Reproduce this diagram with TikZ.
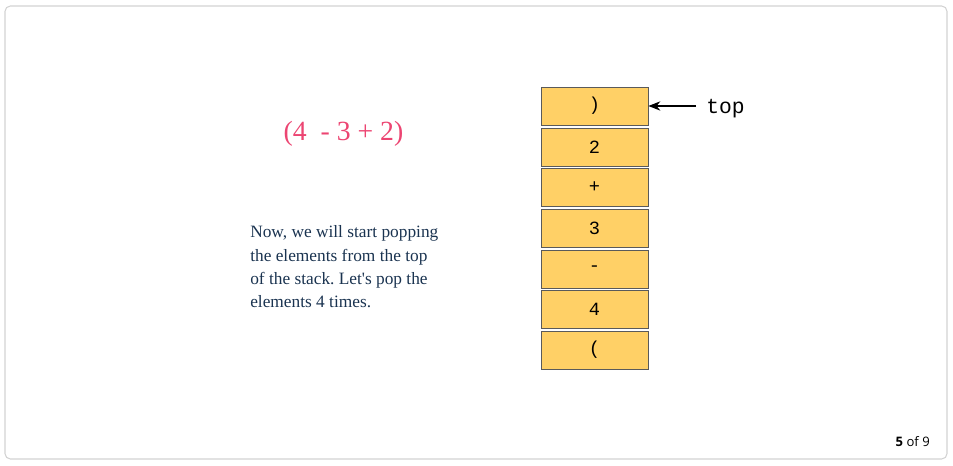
\documentclass[tikz,border=0pt]{standalone}
\usepackage{fontspec}
\setmainfont{Liberation Serif}[Ligatures=TeXOff]
\newfontfamily\monofont{Liberation Mono}
\newfontfamily\pagefont{Open Sans}
\usetikzlibrary{arrows.meta}
\frenchspacing
\definecolor{stackfill}{HTML}{FFD066}
\definecolor{stackline}{HTML}{5A5A5A}
\definecolor{exprpink}{HTML}{EC4572}
\definecolor{notetext}{HTML}{1A3350}
\definecolor{framegray}{HTML}{D2D2D2}
\tikzset{
  cell/.style={draw=stackline, fill=stackfill, minimum width=80.25pt, minimum height=28.5pt,
    inner sep=0pt, line width=0.6pt, font=\monofont\fontsize{14}{14}\selectfont},
  pointer/.style={-{Stealth[length=9pt,width=7pt]}, line width=0.9pt},
}
\begin{document}
\begin{tikzpicture}[x=0.75pt, y=-0.75pt]
        \useasboundingbox (0,0) rectangle (953,466);
        \draw[framegray, line width=0.8pt, rounded corners=4pt] (5,6) rectangle (947,459);
        \node[cell] (c0) at (594.5,106) {)};
        \node[cell] (c1) at (594.5,147) {2};
        \node[cell] (c2) at (594.5,187.5) {+};
        \node[cell] (c3) at (594.5,228) {3};
        \node[cell] (c4) at (594.5,269) {-};
        \node[cell] (c5) at (594.5,309.5) {4};
        \node[cell] (c6) at (594.5,350) {(};
        \node[font=\monofont\fontsize{16}{16}\selectfont, anchor=west, inner sep=0pt] (toplbl) at (706,109) {top};
        \coordinate (tail) at (696,106);
        \draw[pointer] (tail) -- (c0.east);
        \node[text=exprpink, font=\fontsize{20.8}{20.8}\selectfont, inner sep=0pt] (expr) at (343.5,134) {(4\ \ - 3 + 2)};
        \node[text=notetext, font=\fontsize{13}{17.5}\selectfont, align=left, anchor=north west, inner sep=0pt] (note) at (250,225.5)
          {Now, we will start popping\\the elements from the top\\of the stack. Let's pop the\\elements 4 times.};
        \node[font=\pagefont\fontsize{9.8}{9.8}\selectfont, anchor=east, inner sep=0pt] (page) at (930,442) {\textbf{5} of 9};
    \end{tikzpicture}
\end{document}
